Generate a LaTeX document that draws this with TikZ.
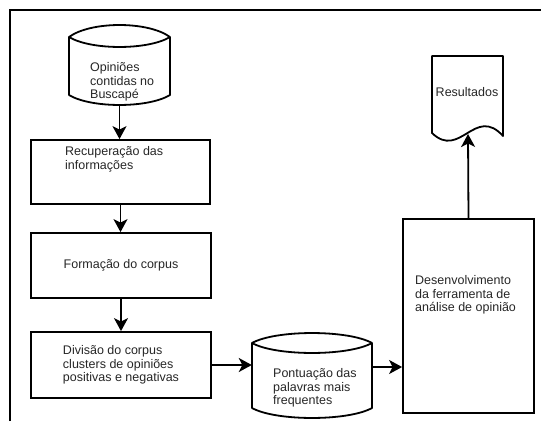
\documentclass[tikz,border=0pt]{standalone}
\usepackage{fontspec}
\setmainfont{Liberation Sans}
\usetikzlibrary{arrows.meta,calc}

\newcommand\flowfont{\fontsize{12.5}{13.5}\selectfont}

\tikzset{
  box/.style={draw,line width=1.8pt,inner sep=0pt,align=left,font=\flowfont,text=black!85},
  frm/.style={inner sep=0pt},
  txt/.style={inner sep=0pt,align=left,font=\flowfont,text=black!85},
  outline/.style={line width=1.8pt,line join=round},
  flow/.style={line width=1.8pt,-{Stealth[length=13pt,width=14pt,inset=3.5pt]}},
}

\begin{document}
\begin{tikzpicture}[x=1pt,y=-1pt]
\useasboundingbox (0,0) rectangle (541,421);

% frame
\draw[line width=2pt] (10,421) -- (10,10) -- (541,10);

% process boxes
\node[box,minimum width=179pt,minimum height=64pt] (rec) at (120.5,172) {};
\node[box,minimum width=180pt,minimum height=65pt] (form) at (121,265.5) {Formação do corpus};
\node[box,minimum width=180pt,minimum height=66pt] (div) at (121,365) {Divisão do corpus\\clusters de opiniões\\positivas e negativas};
\node[box,minimum width=131pt,minimum height=194pt] (dev) at (468.5,316) {};

% areas of the stored data and document shapes
\node[frm,minimum width=101pt,minimum height=80pt] (opin) at (119.5,65) {};
\node[frm,minimum width=120pt,minimum height=85pt] (pont) at (312,375.5) {};
\node[frm,minimum width=71pt,minimum height=87pt] (res) at (467.5,99.5) {};

\draw[outline] (69,37) .. controls (91,21) and (148,21) .. (170,37)
  .. controls (148,50.3) and (91,50.3) .. (69,37) -- (69,95)
  .. controls (91,108.3) and (148,108.3) .. (170,95) -- (170,37);
\draw[outline] (252,343) .. controls (276,329.7) and (348,329.7) .. (372,343)
  .. controls (348,356.3) and (276,356.3) .. (252,343) -- (252,408)
  .. controls (276,421.3) and (348,421.3) .. (372,408) -- (372,343);
\draw[outline] (432,133) -- (432,56) -- (503,56) -- (503,136)
  .. controls (475,105) and (460,160) .. (432,133) -- cycle;

% texts
\node[txt,anchor=west] (opin-t) at (90,82) {Opiniões\\contidas no\\Buscapé};
\node[txt,anchor=west] (rec-t) at (65,159.5) {Recuperação das\\informações};
\node[txt,anchor=west] (pont-t) at (273,388) {Pontuação das\\palavras mais\\frequentes};
\node[txt,anchor=west] (dev-t) at (415,295) {Desenvolvimento\\da ferramenta de\\análise de opinião};
\node[txt] (res-t) at (467,92) {Resultados};

% connectors
\coordinate (pont-out) at (372,367);
\coordinate (res-in) at (468,134);
\draw[flow] (opin.south) -- (opin.south |- rec.north);
\draw[flow] (rec.south) -- (rec.south |- form.north);
\draw[flow] (form.south) -- (form.south |- div.north);
\draw[flow] (div.east) -- (div.east -| pont.west);
\draw[flow] (pont-out) -- (pont-out -| dev.west);
\draw[flow] (dev.north) -- (res-in);

\end{tikzpicture}
\end{document}
